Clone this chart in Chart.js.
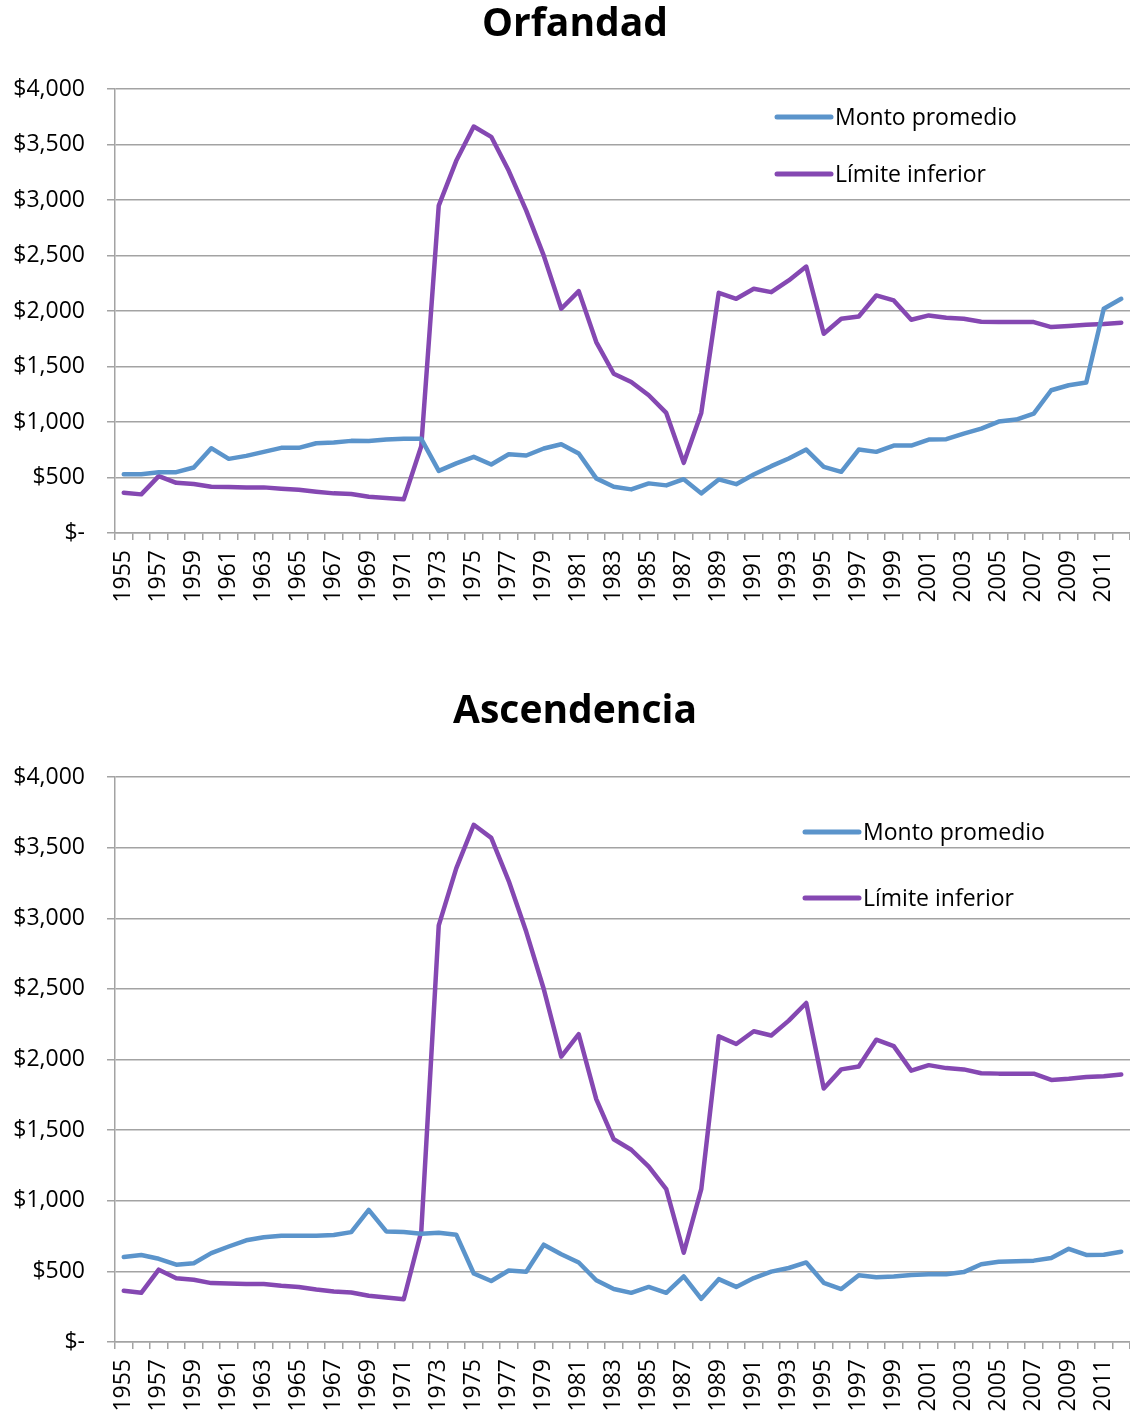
<!DOCTYPE html>
<html>
<head>
<meta charset="utf-8">
<script src="https://cdn.jsdelivr.net/npm/chart.js@4.4.1/dist/chart.umd.min.js"></script>
<style>
    body { margin: 0; background: #fff; }
    .box { position: absolute; left: 0; width: 1130px; }
    #box1 { top: 0; height: 620px; }
    #box2 { top: 680px; height: 738px; }
</style>
</head>
<body>
<div class="box" id="box1"><canvas id="chartOrfandad"></canvas></div>
<div class="box" id="box2"><canvas id="chartAscendencia"></canvas></div>
<script>
// Years on the x axis
const years = [];
for (let y = 1955; y <= 2012; y++) years.push(String(y));

// Monto promedio - Orfandad
const montoOrfandad = [
    530, 530, 548, 548, 590, 764, 668, 695, 731, 767, 767, 809, 815, 830, 829, 842, 848, 848,
    560, 627, 686, 617, 710, 698, 761, 800, 716, 492, 416, 393, 447, 429, 485, 357, 483, 440,
    527, 602, 671, 752, 596, 551, 752, 731, 788, 788, 842, 845, 896, 941, 1004, 1022, 1076, 1286, 1331, 1355, 2020, 2110
];

// Monto promedio - Ascendencia
const montoAscendencia = [
    602, 616, 589, 547, 558, 629, 676, 720, 741, 752, 752, 752, 757, 778, 935, 783, 778, 767,
    773, 760, 485, 432, 506, 498, 689, 621, 563, 437, 375, 348, 390, 348, 464, 306, 445, 390,
    453, 498, 524, 563, 419, 375, 472, 458, 464, 474, 479, 479, 495, 550, 568, 571, 576, 595, 660, 616, 618, 639
];

// Límite inferior (same in both charts)
const limiteInferior = [
    363, 348, 512, 452, 441, 417, 414, 411, 411, 399, 390, 372, 357, 351, 327, 315, 303, 782,
    2949, 3353, 3662, 3569, 3263, 2904, 2499, 2020, 2179, 1720, 1435, 1361, 1241, 1082, 632, 1082, 2164, 2110,
    2200, 2170, 2275, 2400, 1795, 1930, 1951, 2140, 2095, 1921, 1960, 1939, 1930, 1903, 1900, 1900, 1900, 1855, 1864, 1876, 1882, 1894
];

const seriesNames = ['Monto promedio', 'Límite inferior'];
const yTicks = [0, 500, 1000, 1500, 2000, 2500, 3000, 3500, 4000];

const BLUE = '#5B94CB';
const PURPLE = '#8548B2';
const GRID = '#a3a3a3';
const FONT = "'Open Sans', sans-serif";

// Draws the title and the legend inside the plot, like the Excel original
const excelDecor = {
    id: 'excelDecor',
    afterDraw(chart, args, opts) {
        const ctx = chart.ctx;
        ctx.save();
        // title
        ctx.font = 'bold 39px ' + FONT;
        ctx.fillStyle = '#000';
        ctx.textAlign = 'center';
        ctx.textBaseline = 'middle';
        ctx.fillText(opts.title, 575, opts.titleY);
        // legend
        ctx.font = '23px ' + FONT;
        ctx.textAlign = 'left';
        chart.data.datasets.forEach((ds, i) => {
            const y = opts.y + i * opts.gap;
            ctx.strokeStyle = ds.borderColor;
            ctx.lineWidth = 5;
            ctx.lineCap = 'round';
            ctx.beginPath();
            ctx.moveTo(opts.x, y);
            ctx.lineTo(opts.x + 54, y);
            ctx.stroke();
            ctx.fillText(ds.label, opts.x + 58, y + 1);
        });
        ctx.restore();
    }
};

function makeChart(id, monto, topPad, xHeight, decor) {
    const ctx = document.getElementById(id).getContext('2d');
    return new Chart(ctx, {
        type: 'line',
        data: {
            labels: years,
            datasets: [
                { label: seriesNames[0], data: monto, borderColor: BLUE },
                { label: seriesNames[1], data: limiteInferior, borderColor: PURPLE }
            ]
        },
        options: {
            responsive: true,
            maintainAspectRatio: false,
            animation: false,
            layout: { padding: { left: 0, right: 0, top: topPad, bottom: 0 } },
            elements: {
                line: { borderWidth: 4.5, tension: 0, borderCapStyle: 'round', borderJoinStyle: 'round' },
                point: { radius: 0 }
            },
            plugins: {
                legend: { display: false },
                tooltip: { enabled: false },
                title: { display: false },
                excelDecor: decor
            },
            scales: {
                x: {
                    offset: true,
                    afterFit: (s) => {
                        s.height = xHeight;
                        s.paddingLeft = 0;
                        s.paddingRight = 0;
                    },
                    grid: {
                        offset: true,
                        drawOnChartArea: false,
                        drawTicks: true,
                        tickLength: 7,
                        color: GRID,
                        lineWidth: 1.5
                    },
                    border: { display: true, color: GRID, width: 1.5 },
                    ticks: {
                        autoSkip: false,
                        minRotation: 90,
                        maxRotation: 90,
                        padding: 10,
                        color: '#000',
                        font: { family: FONT, size: 23 },
                        callback: (v, i) => (i % 2 === 0 ? years[i] : '')
                    }
                },
                y: {
                    min: 0,
                    max: 4000,
                    afterFit: (s) => { s.width = 115; },
                    afterBuildTicks: (s) => { s.ticks = yTicks.map(v => ({ value: v })); },
                    grid: { color: GRID, lineWidth: 1.5, tickLength: 8 },
                    border: { display: true, color: GRID, width: 1.5 },
                    ticks: {
                        padding: 22,
                        color: '#000',
                        font: { family: FONT, size: 23 },
                        callback: (v) => (v === 0 ? '$-' : '$' + v.toLocaleString('en-US'))
                    }
                }
            }
        },
        plugins: [excelDecor]
    });
}

makeChart('chartOrfandad', montoOrfandad, 89, 87,
    { title: 'Orfandad', titleY: 25, x: 777, y: 117, gap: 57 });
makeChart('chartAscendencia', montoAscendencia, 97, 76,
    { title: 'Ascendencia', titleY: 32, x: 805, y: 152, gap: 66 });
</script>
</body>
</html>
